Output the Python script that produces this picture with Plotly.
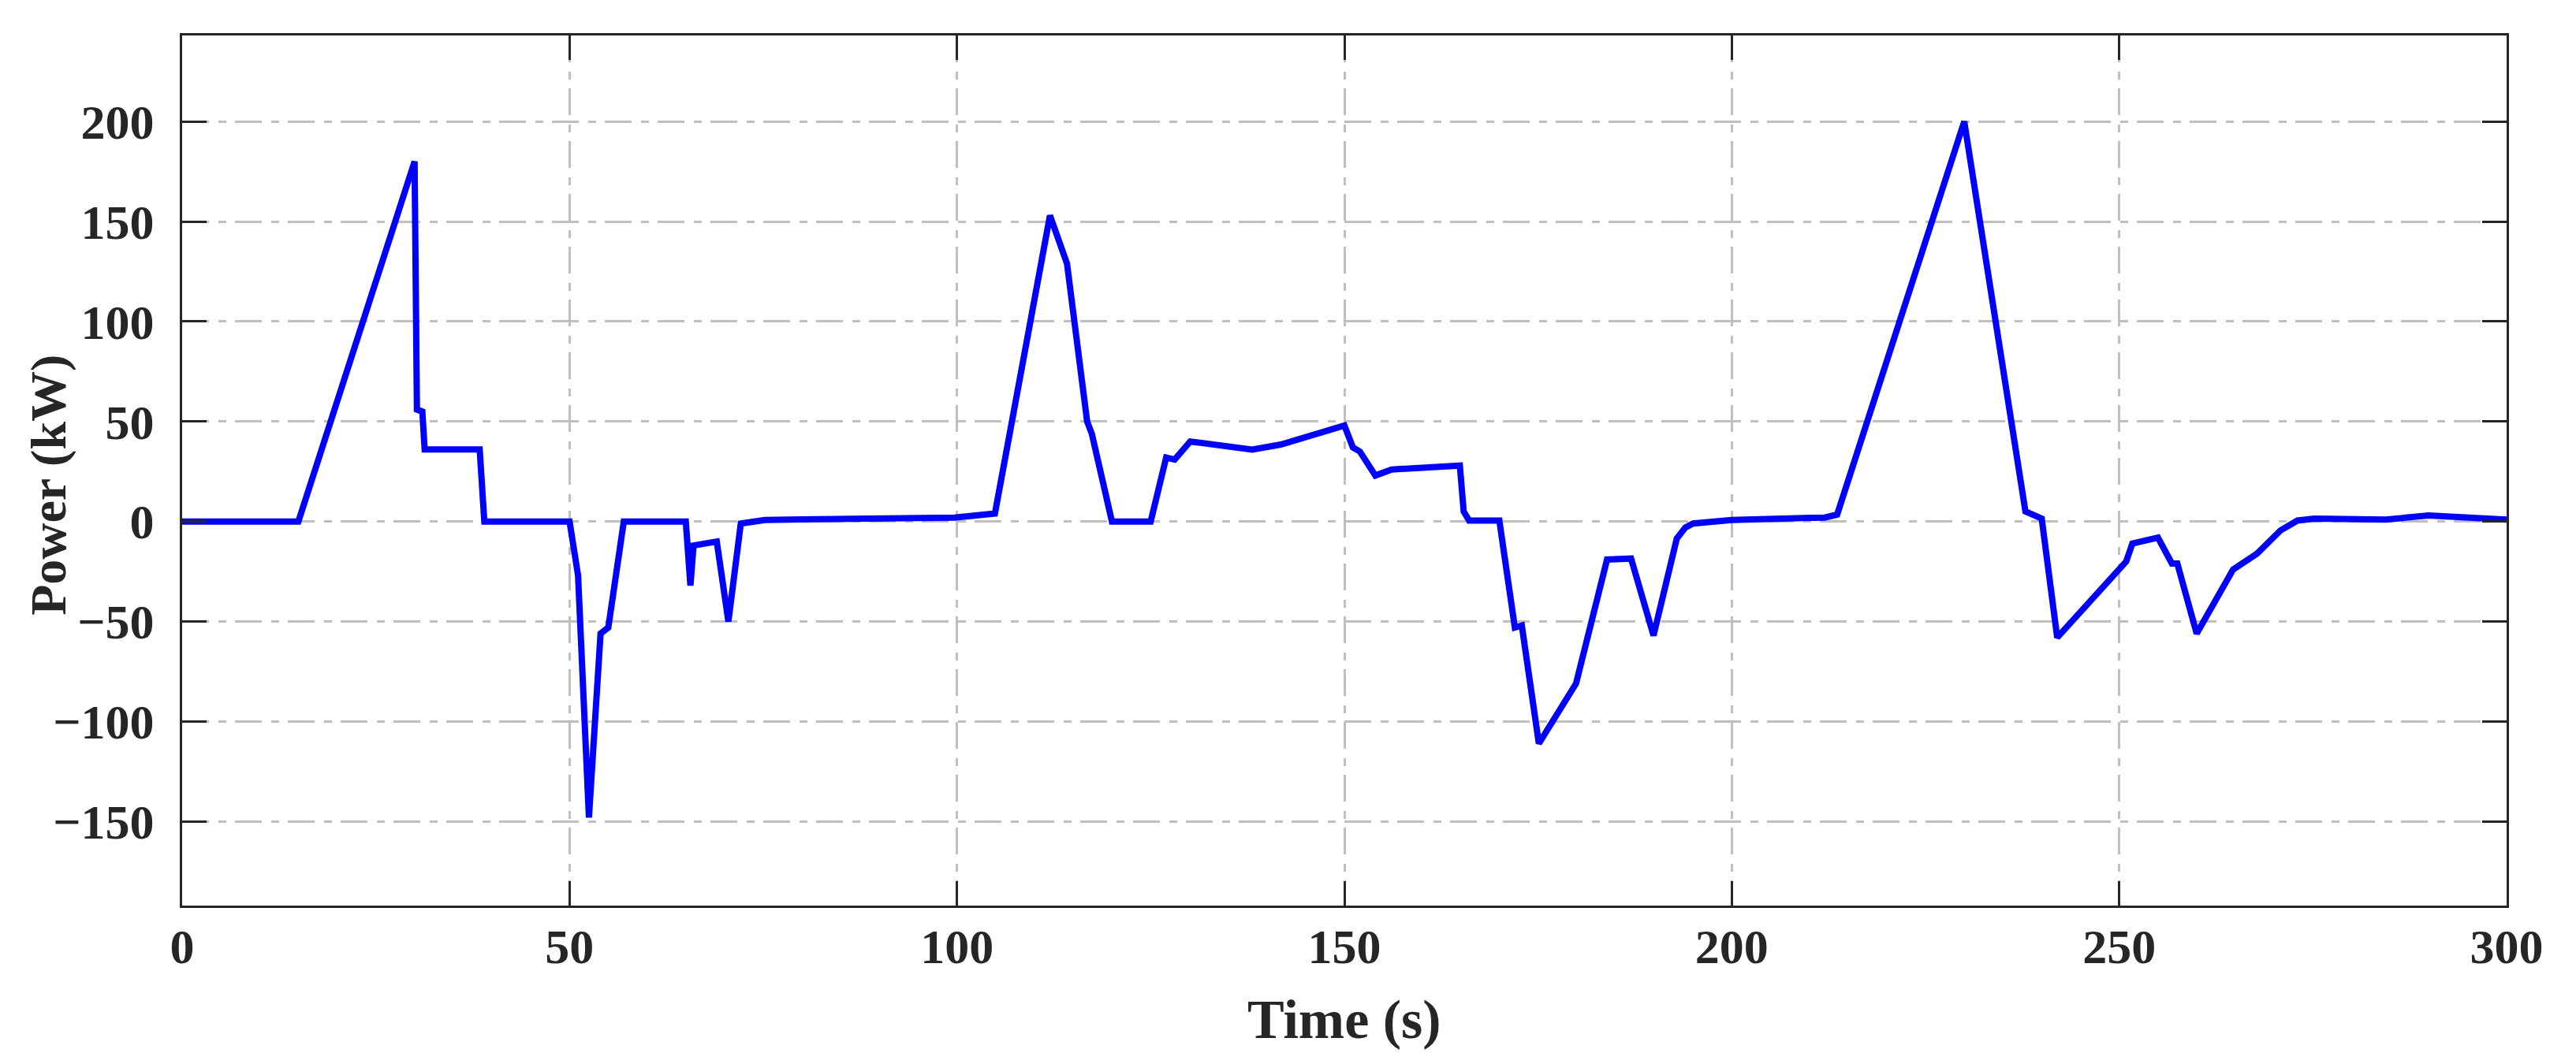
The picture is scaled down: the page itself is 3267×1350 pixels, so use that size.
"""Power profile over a drive cycle (kW vs s)."""

import plotly.graph_objects as go

# Time samples (s) and power (kW)
time_s = [0, 15, 30, 30.3, 31.0, 31.3, 38.4, 39.0, 50, 51.1, 52.5, 54.0, 55.0, 57.0,
          65.0, 65.6, 66.0, 69.0, 70.5, 72.1, 75.2, 84.7, 99.7, 104.9, 112, 114.2,
          116.8, 117.4, 120, 125, 127, 128.1, 130.1, 138.1, 141.8, 150, 151.1, 152,
          154, 156.1, 164.9, 165.4, 166.1, 170, 172, 172.9, 175.1, 179.9, 181.8,
          183.9, 187, 189.9, 192.9, 194, 195, 200, 212, 213.6, 230, 237.9, 240, 242,
          250.9, 251.7, 255, 256.8, 257.5, 260, 264.7, 267.8, 270.8, 273, 275.2,
          284.4, 289.9, 300]
power_kw = [0, 0, 180, 56, 55, 36, 36, 0, 0, -27, -148, -56, -53, 0,
            0, -32, -12, -10, -50, -1, 0.8, 1.5, 2, 4, 153, 129,
            50, 44, 0, 0, 32, 31, 40, 36, 38.5, 48, 37, 35,
            23, 26, 28, 5, 0.5, 0.5, -53, -52, -111, -81, -53,
            -19, -18.5, -57, -8.5, -3, -1, 0.8, 2, 3.5, 200, 5, 1.5, -58,
            -20, -11, -8, -21, -21, -56, -24, -16, -4.5, 0.5, 1.5,
            1, 3, 1]

x_ticks = [0, 50, 100, 150, 200, 250, 300]
y_ticks = [-150, -100, -50, 0, 50, 100, 150, 200]

FONT = "Liberation Serif"
INK = "#262626"
GRID = "#bfbfbf"
DASHDOT = "34px,12px,10px,11px"

fig = go.Figure()
fig.add_trace(go.Scatter(
    x=time_s, y=power_kw, mode="lines",
    line=dict(color="#0000ff", width=8),
    showlegend=False,
))

axis_common = dict(
    showline=True, linecolor=INK, linewidth=3, mirror="ticks",
    ticks="inside", ticklen=31, tickwidth=3, tickcolor=INK,
    showgrid=True, gridcolor=GRID, gridwidth=3, griddash=DASHDOT,
    zeroline=False,
    tickfont=dict(family=FONT, size=62, color=INK, weight="bold"),
)

# page body adds an 8px offset, so margins are shifted to compensate
fig.update_layout(
    width=3267, height=1350,
    paper_bgcolor="white", plot_bgcolor="white",
    margin=dict(l=223, r=96, t=37, b=209),
    xaxis=dict(range=[0, 300], tickvals=x_ticks, ticklabelstandoff=-4, **axis_common),
    yaxis=dict(range=[-192, 243], tickvals=y_ticks, ticklabelstandoff=20, **axis_common),
    annotations=[
        dict(text="Time (s)", x=0.5, y=-0.131, xref="paper", yref="paper",
             showarrow=False, xanchor="center", yanchor="middle",
             font=dict(family=FONT, size=70, color=INK, weight="bold")),
        dict(text="Power (kW)", x=-0.0573, y=0.483, xref="paper", yref="paper",
             showarrow=False, xanchor="center", yanchor="middle", textangle=-90,
             font=dict(family=FONT, size=64, color=INK, weight="bold")),
    ],
)

fig.write_html("out.html")
